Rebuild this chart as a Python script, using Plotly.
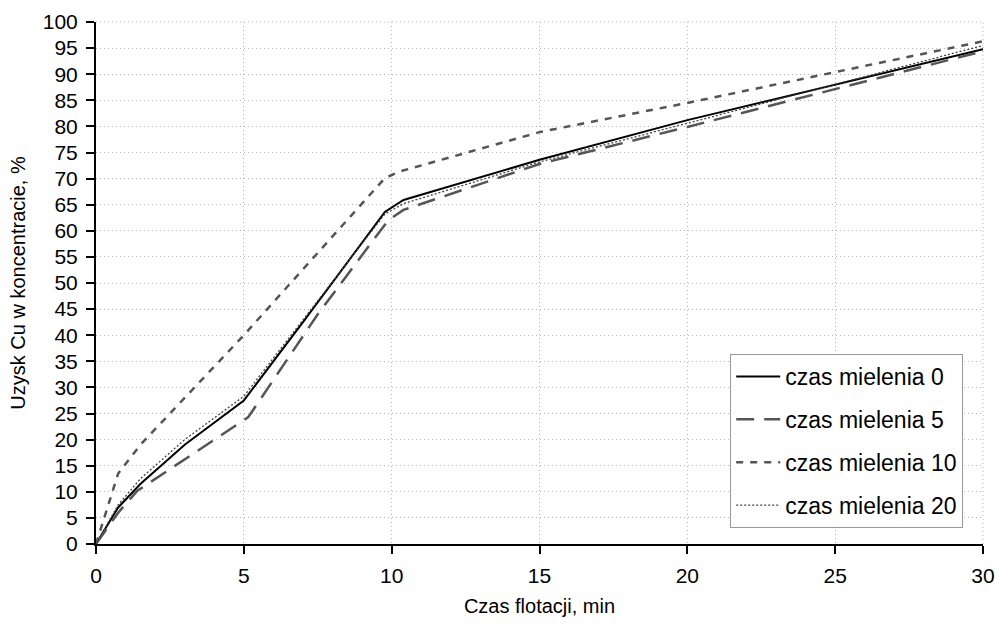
import plotly.graph_objects as go

# Cu recovery vs flotation time for four grinding times
t0 = [0, 0.75, 1.5, 3.0, 5.0, 7.0, 9.77, 10.4, 15, 20, 30]
r0 = [0, 7.0, 11.5, 19.0, 27.5, 42.5, 63.6, 65.9, 73.6, 81.2, 94.8]

t5 = [0, 0.75, 1.4, 3.5, 5.15, 7.5, 9.88, 10.4, 15, 20, 30]
r5 = [0, 6.0, 10.2, 18.0, 24.3, 44.0, 62.0, 64.0, 72.8, 79.9, 94.4]

t10 = [0, 0.25, 0.75, 1.5, 5.0, 9.77, 10.3, 15, 20, 30]
r10 = [0, 4.5, 13.5, 19.0, 40.0, 70.1, 71.4, 78.9, 84.5, 96.3]

t20 = [0, 0.75, 1.5, 3.0, 5.0, 7.0, 9.77, 10.4, 15, 20, 30]
r20 = [0, 7.5, 12.5, 20.0, 28.3, 43.0, 63.2, 65.2, 73.2, 80.6, 95.5]

names = ["czas mielenia 0", "czas mielenia 5", "czas mielenia 10", "czas mielenia 20"]
series = [(t0, r0), (t5, r5), (t10, r10), (t20, r20)]
styles = [
    dict(color="#000000", width=2, dash="solid"),
    dict(color="#555555", width=2.5, dash="18px,10px"),
    dict(color="#555555", width=2.5, dash="7px,7px"),
    dict(color="#444444", width=1.3, dash="2px,2px"),
]

fig = go.Figure()
for i, ((x, y), name, st) in enumerate(zip(series, names, styles)):
    fig.add_trace(go.Scatter(
        x=x, y=y, mode="lines", name=name, line=st,
        legendgroup=f"g{i}",
    ))

FONT = "Liberation Sans, Arial, sans-serif"
GRID = "#b8b8b8"
axis_font = dict(family=FONT, size=21, color="#000")
fig.update_layout(
    width=997, height=625,
    margin=dict(l=96, r=14, t=22, b=81),
    paper_bgcolor="white", plot_bgcolor="white",
    font=dict(family=FONT, color="#000"),
    legend=dict(
        x=0.715, y=0.364, xanchor="left", yanchor="top",
        bordercolor="#999999", borderwidth=1, bgcolor="white",
        font=dict(size=23, family=FONT),
        tracegroupgap=10, itemwidth=44,
    ),
    showlegend=True,
)
fig.update_xaxes(
    range=[0, 30], tick0=0, dtick=5, automargin=False,
    showline=True, linecolor="#000", linewidth=2,
    ticks="outside", ticklen=8, tickwidth=2, tickcolor="#000",
    ticklabelstandoff=4,
    showgrid=True, gridcolor=GRID, griddash="1px,3px", gridwidth=1,
    zeroline=False, tickfont=axis_font,
    title=dict(text="Czas flotacji, min", font=dict(size=20), standoff=13),
)
fig.update_yaxes(
    range=[0, 100], tick0=0, dtick=5, automargin=False,
    showline=True, linecolor="#000", linewidth=2,
    ticks="outside", ticklen=8, tickwidth=2, tickcolor="#000",
    ticklabelstandoff=4,
    showgrid=True, gridcolor=GRID, griddash="1px,3px", gridwidth=1,
    zeroline=False, tickfont=axis_font,
    title=dict(text="Uzysk Cu w koncentracie, %", font=dict(size=20), standoff=12),
)
# dotted frame on the top and right edges
fig.add_shape(type="line", xref="paper", yref="paper", x0=0, x1=1, y0=1, y1=1,
              line=dict(color=GRID, width=1, dash="1px,3px"))
fig.add_shape(type="line", xref="paper", yref="paper", x0=1, x1=1, y0=0, y1=1,
              line=dict(color=GRID, width=1, dash="1px,3px"))

fig.write_html("out.html")
